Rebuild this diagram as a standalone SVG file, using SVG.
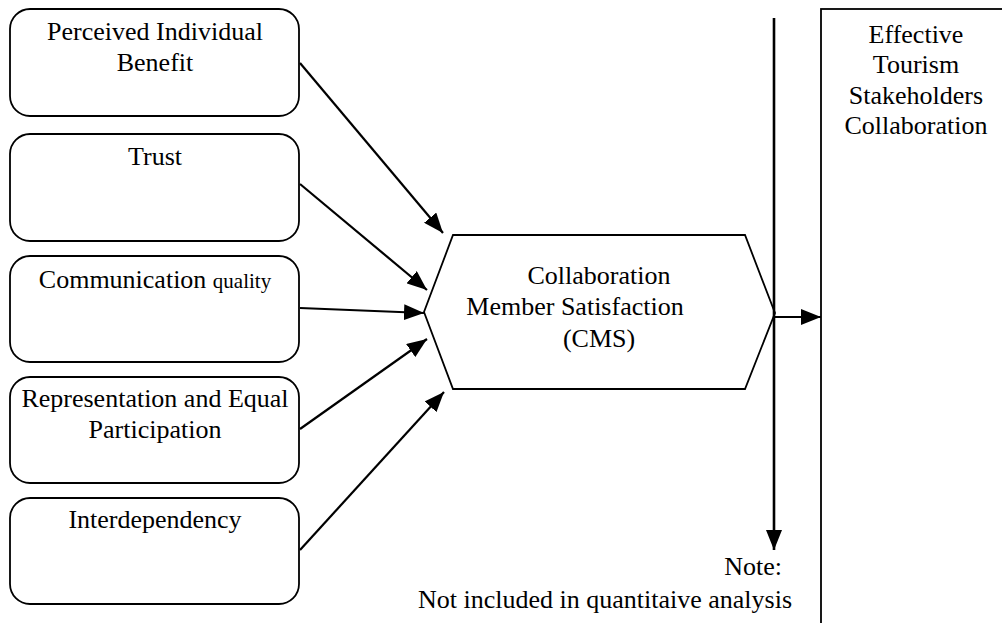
<svg xmlns="http://www.w3.org/2000/svg" width="1002" height="623" viewBox="0 0 1002 623">
  <defs>
    <marker id="head" markerUnits="userSpaceOnUse" markerWidth="20" markerHeight="16" viewBox="0 0 20 16" refX="20" refY="8" orient="auto">
      <path d="M0,0 L20,8 L0,16 Z" fill="#000000"/>
    </marker>
  </defs>
  <rect width="1002" height="623" fill="#ffffff"/>

  <g font-family="Liberation Serif, Times New Roman, serif" font-size="26" fill="#000000">
    <!-- factor boxes -->
    <g id="node-benefit">
      <rect x="10" y="9" width="289" height="107" rx="20" fill="#ffffff" stroke="#000000" stroke-width="1.8"/>
      <text text-anchor="middle" x="155" y="40">Perceived Individual</text>
      <text text-anchor="middle" x="155" y="71">Benefit</text>
    </g>
    <g id="node-trust">
      <rect x="10" y="134" width="289" height="107" rx="20" fill="#ffffff" stroke="#000000" stroke-width="1.8"/>
      <text text-anchor="middle" x="155" y="165">Trust</text>
    </g>
    <g id="node-communication">
      <rect x="10" y="256" width="289" height="106" rx="20" fill="#ffffff" stroke="#000000" stroke-width="1.8"/>
      <text text-anchor="middle" x="155" y="288">Communication <tspan font-size="21">quality</tspan></text>
    </g>
    <g id="node-representation">
      <rect x="10" y="377" width="289" height="106" rx="20" fill="#ffffff" stroke="#000000" stroke-width="1.8"/>
      <text text-anchor="middle" x="155" y="407">Representation and Equal</text>
      <text text-anchor="middle" x="155" y="438">Participation</text>
    </g>
    <g id="node-interdependency">
      <rect x="10" y="498" width="289" height="106" rx="20" fill="#ffffff" stroke="#000000" stroke-width="1.8"/>
      <text text-anchor="middle" x="155" y="528">Interdependency</text>
    </g>

    <!-- central satisfaction node -->
    <g id="node-cms">
      <polygon points="453,235 745,235 775,313 745,389 453,389 424,312" fill="#ffffff" stroke="#000000" stroke-width="1.8"/>
      <text text-anchor="middle" x="599" y="284">Collaboration</text>
      <text text-anchor="middle" x="575" y="315">Member Satisfaction</text>
      <text text-anchor="middle" x="599" y="347">(CMS)</text>
    </g>

    <!-- outcome -->
    <g id="node-outcome">
      <rect x="821" y="9" width="200" height="640" fill="#ffffff" stroke="#000000" stroke-width="1.8"/>
      <text text-anchor="middle" x="916" y="43">Effective</text>
      <text text-anchor="middle" x="916" y="73">Tourism</text>
      <text text-anchor="middle" x="916" y="104">Stakeholders</text>
      <text text-anchor="middle" x="916" y="134">Collaboration</text>
    </g>

    <!-- note -->
    <g id="node-note">
      <text text-anchor="end" x="782" y="575">Note:</text>
      <text text-anchor="end" x="792" y="608">Not included in quantitaive analysis</text>
    </g>
  </g>

  <!-- connectors -->
  <g id="connectors" stroke="#000000" stroke-width="2.2" fill="none" marker-end="url(#head)">
    <line x1="300" y1="63" x2="443" y2="233"/>
    <line x1="300" y1="184" x2="427" y2="290"/>
    <line x1="300" y1="308" x2="424" y2="313"/>
    <line x1="300" y1="429" x2="427" y2="339"/>
    <line x1="300" y1="550" x2="444" y2="392"/>
    <line x1="775" y1="317" x2="821" y2="317"/>
    <line x1="774" y1="18" x2="774" y2="550" stroke-width="2.6"/>
  </g>
</svg>
